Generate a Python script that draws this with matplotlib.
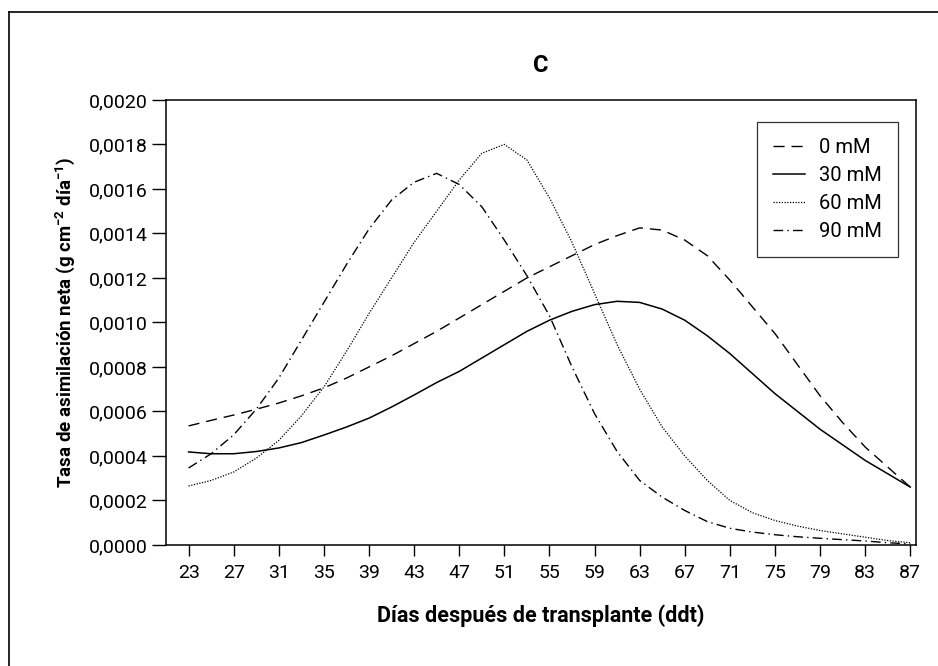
import matplotlib
matplotlib.use("Agg")
import matplotlib.pyplot as plt
from matplotlib.ticker import FuncFormatter, MultipleLocator
from matplotlib.lines import Line2D

plt.rcParams['font.family'] = ['Roboto', 'DejaVu Sans']
plt.rcParams['mathtext.fontset'] = 'custom'
plt.rcParams['mathtext.rm'] = 'Roboto'
plt.rcParams['mathtext.bf'] = 'Roboto:bold'
plt.rcParams['mathtext.default'] = 'bf'

# days after transplant
dias = [23, 25, 27, 29, 31, 33, 35, 37, 39, 41, 43, 45, 47, 49, 51, 53, 55,
        57, 59, 61, 63, 65, 67, 69, 71, 73, 75, 77, 79, 81, 83, 85, 87]

# net assimilation rate
tan_0mm = [0.000535, 0.00056, 0.000584, 0.00061, 0.000638, 0.00067, 0.000706,
           0.00075, 0.0008, 0.00085, 0.000905, 0.00096, 0.00102, 0.00108,
           0.00114, 0.0012, 0.00125, 0.0013, 0.00135, 0.00139, 0.001425,
           0.001415, 0.00137, 0.0013, 0.00119, 0.00107, 0.00095, 0.00081,
           0.00067, 0.00055, 0.00044, 0.00035, 0.00026]
tan_30mm = [0.000418, 0.00041, 0.00041, 0.00042, 0.000436, 0.00046, 0.000494,
            0.00053, 0.00057, 0.00062, 0.000674, 0.00073, 0.00078, 0.00084,
            0.0009, 0.00096, 0.00101, 0.00105, 0.00108, 0.001095, 0.00109,
            0.00106, 0.00101, 0.00094, 0.00086, 0.00077, 0.00068, 0.0006,
            0.00052, 0.00045, 0.00038, 0.00032, 0.00026]
tan_60mm = [0.000265, 0.00029, 0.000328, 0.00039, 0.00047, 0.00058, 0.00071,
            0.00087, 0.00104, 0.0012, 0.00136, 0.0015, 0.00164, 0.00176,
            0.0018, 0.00173, 0.00156, 0.00136, 0.00113, 0.0009, 0.0007,
            0.00053, 0.0004, 0.00029, 0.0002, 0.000145, 0.00011, 0.000085,
            0.000065, 0.00005, 0.000035, 0.00002, 0.00001]
tan_90mm = [0.000346, 0.00041, 0.000495, 0.00061, 0.00075, 0.00092, 0.00109,
            0.00126, 0.00142, 0.00155, 0.00163, 0.00167, 0.00162, 0.00152,
            0.00137, 0.00121, 0.00103, 0.0008, 0.00059, 0.00042, 0.00029,
            0.000215, 0.000155, 0.000105, 0.000075, 0.000058, 0.000046,
            0.000037, 0.00003, 0.000024, 0.000018, 0.00001, 0.000005]

etiquetas = ['0 mM', '30 mM', '60 mM', '90 mM']

fig = plt.figure(figsize=(9.38, 6.66), dpi=100)
ax = fig.add_axes([0.177, 0.1817, 0.7995, 0.6683])

ax.plot(dias, tan_0mm, color='black', lw=1.0, linestyle=(0, (8, 5)), label=etiquetas[0])
ax.plot(dias, tan_30mm, color='black', lw=1.1, linestyle='-', label=etiquetas[1])
ax.plot(dias, tan_60mm, color='black', lw=0.9, linestyle=(0, (1, 1.2)), label=etiquetas[2])
ax.plot(dias, tan_90mm, color='black', lw=1.0, linestyle=(0, (7, 3, 1, 3)), label=etiquetas[3])

ax.set_xlim(21, 87.5)
ax.set_ylim(0, 0.0020)
ax.set_xticks(range(23, 88, 4))
ax.yaxis.set_major_locator(MultipleLocator(0.0002))
ax.yaxis.set_major_formatter(FuncFormatter(lambda v, p: f'{v:.4f}'.replace('.', ',')))

ax.tick_params(axis='x', direction='out', length=8, width=1, labelsize=14, pad=6)
ax.tick_params(axis='y', direction='out', length=10, width=1, labelsize=14, pad=3)
for s in ax.spines.values():
    s.set_linewidth(1.1)

ax.set_xlabel('Días después de transplante (ddt)', fontsize=15.5, fontweight='bold', labelpad=16)
ax.set_ylabel('Tasa de asimilación neta (g cm$^{-2}$ día$^{-1}$)', fontsize=13.5,
              fontweight='bold', labelpad=9)
ax.set_title('C', fontsize=17, fontweight='bold', pad=20)

leg = ax.legend(loc='upper right', bbox_to_anchor=(0.976, 0.9506), borderaxespad=0,
                fontsize=14.5, handlelength=1.6, handletextpad=0.7, labelspacing=0.45,
                fancybox=False, edgecolor='black', borderpad=0.8)
leg.get_frame().set_linewidth(0.9)

# outer frame (top and left edges visible)
fig.add_artist(Line2D([9 / 938, 9 / 938], [0, 1 - 12 / 666], transform=fig.transFigure,
                      color='black', lw=1.2))
fig.add_artist(Line2D([9 / 938, 1], [1 - 12 / 666, 1 - 12 / 666], transform=fig.transFigure,
                      color='black', lw=1.2))

fig.savefig('out.png', dpi=100)
